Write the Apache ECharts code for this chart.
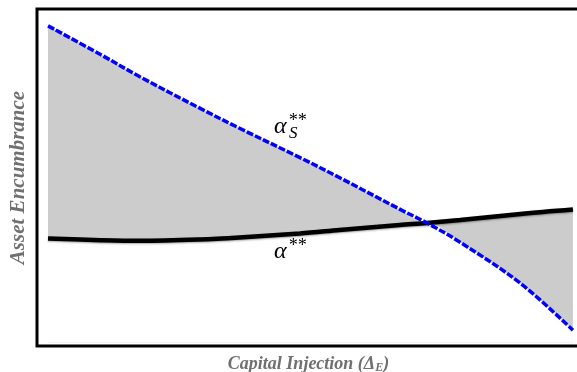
<!DOCTYPE html>
<html>
<head>
<meta charset="utf-8">
<script src="https://cdn.jsdelivr.net/npm/echarts@6/dist/echarts.min.js"></script>
<style>
  html, body { margin: 0; padding: 0; background: #fff; }
  #chart { width: 577px; height: 372px; }
</style>
</head>
<body>
<div id="chart"></div>
<script>
// capital injection (normalised) and the two encumbrance curves
const deltaE = [0, 0.1, 0.175, 0.29, 0.365, 0.48, 0.555, 0.67, 0.722, 0.785, 0.9, 1.0];
const alphaS = [0.950, 0.865, 0.799, 0.705, 0.646, 0.559, 0.500, 0.406, 0.365, 0.308, 0.186, 0.047];
const alpha = [0.319, 0.314, 0.312, 0.316, 0.322, 0.334, 0.344, 0.359, 0.365, 0.374, 0.392, 0.405];

const serif = "Liberation Serif";
const SMOOTH = 0.35;

// band between the curves: grey under the upper one, white under the lower one
const upper = deltaE.map((x, i) => [x, Math.max(alphaS[i], alpha[i])]);
const lowerEnv = deltaE.map((x, i) => [x, Math.min(alphaS[i], alpha[i])]);

const chart = echarts.init(document.getElementById("chart"));
chart.setOption({
  animation: false,
  grid: {
    left: 37,
    right: -3,
    top: 9,
    bottom: 26,
    outerBoundsMode: "none",
    show: true,
    borderColor: "#000",
    borderWidth: 3,
  },
  xAxis: {
    type: "value",
    min: -0.021,
    max: 1.0135,
    axisLine: { show: false },
    axisTick: { show: false },
    axisLabel: { show: false },
    splitLine: { show: false },
    name: "{t|Capital Injection (}{t|Δ}{s|E}{t|)}",
    nameLocation: "middle",
    nameGap: 8,
    nameTextStyle: {
      rich: {
        t: { fontFamily: serif, fontSize: 18, fontWeight: "bold", fontStyle: "italic", color: "#707070" },
        s: { fontFamily: serif, fontSize: 12, fontWeight: "bold", fontStyle: "italic", color: "#707070", padding: [8, 0, 0, 0] },
      },
    },
  },
  yAxis: {
    type: "value",
    min: 0,
    max: 1,
    axisLine: { show: false },
    axisTick: { show: false },
    axisLabel: { show: false },
    splitLine: { show: false },
    name: "Asset Encumbrance",
    nameLocation: "middle",
    nameGap: 8,
    nameTextStyle: {
      fontFamily: serif,
      fontSize: 21,
      fontWeight: "bold",
      fontStyle: "italic",
      color: "#707070",
    },
  },
  series: [
    {
      type: "line",
      data: upper,
      smooth: SMOOTH,
      showSymbol: false,
      silent: true,
      lineStyle: { width: 0 },
      areaStyle: { color: "#cccccc", opacity: 1, origin: 0.01 },
    },
    {
      type: "line",
      data: lowerEnv,
      smooth: SMOOTH,
      showSymbol: false,
      silent: true,
      lineStyle: { width: 0 },
      areaStyle: { color: "#ffffff", opacity: 1, origin: 0.01 },
    },
    {
      name: "alpha",
      type: "line",
      data: deltaE.map((x, i) => [x, alpha[i]]),
      smooth: SMOOTH,
      showSymbol: false,
      lineStyle: {
        color: "#000",
        width: 4.5,
        shadowColor: "rgba(0,0,0,0.35)",
        shadowBlur: 2,
        shadowOffsetY: 1,
      },
    },
    {
      name: "alphaS",
      type: "line",
      data: deltaE.map((x, i) => [x, alphaS[i]]),
      smooth: SMOOTH,
      showSymbol: false,
      lineStyle: { color: "#0000ff", width: 3.5, type: [7, 2] },
    },
  ],
  graphic: [
    { type: "text", z: 100, left: 274, top: 115, style: { text: "α", font: "italic 24px " + serif, fill: "#000" } },
    { type: "text", z: 100, left: 288, top: 112, style: { text: "**", font: "italic 18px " + serif, fill: "#000" } },
    { type: "text", z: 100, left: 289, top: 125, style: { text: "S", font: "italic 17px " + serif, fill: "#000" } },
    { type: "text", z: 100, left: 274, top: 240, style: { text: "α", font: "italic 24px " + serif, fill: "#000" } },
    { type: "text", z: 100, left: 288, top: 237, style: { text: "**", font: "italic 18px " + serif, fill: "#000" } },
  ],
});
</script>
</body>
</html>
